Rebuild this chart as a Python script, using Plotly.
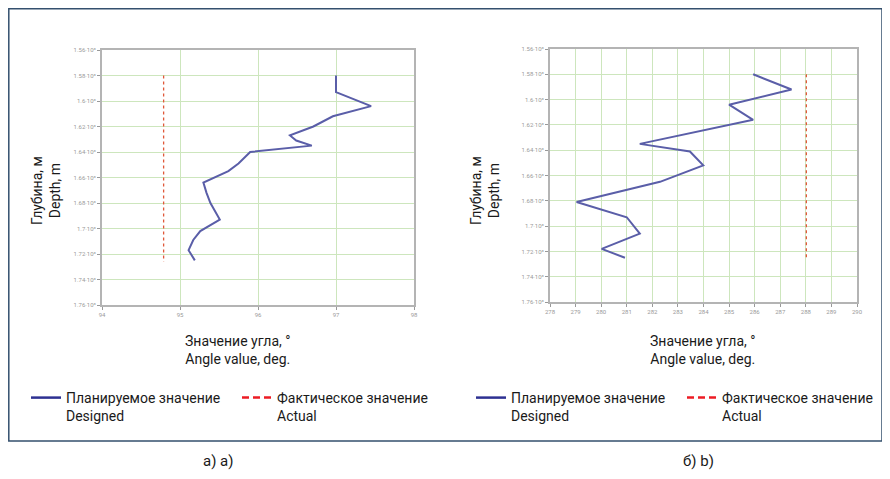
import plotly.graph_objects as go

OFF = 8  # default page margin of the html body
W, H = 890 - OFF, 479 - OFF
def px(x): return (x - OFF) / W
def py(y): return 1 - (y - OFF) / H

# ---------------- data ----------------
depth_ticks = [1560, 1580, 1600, 1620, 1640, 1660, 1680, 1700, 1720, 1740, 1760]
depth_labels = ["1.56·10³", "1.58·10³", "1.6·10³", "1.62·10³", "1.64·10³", "1.66·10³",
                "1.68·10³", "1.7·10³", "1.72·10³", "1.74·10³", "1.76·10³"]

a_x_ticks = [94, 95, 96, 97, 98]
a_x_labels = ["94", "95", "96", "97", "98"]
a_design_angle = [97.0, 97.0, 97.45, 96.96, 96.71, 96.41, 96.49, 96.69, 95.90, 95.75,
                  95.62, 95.30, 95.34, 95.39, 95.51, 95.26, 95.17, 95.11, 95.19]
a_design_depth = [1580, 1593, 1604, 1612, 1620, 1627, 1631, 1635, 1640, 1649,
                  1655, 1664, 1672, 1680, 1693, 1702, 1709, 1717, 1725]
a_actual_angle = [94.79, 94.79]
a_actual_depth = [1580, 1726]

b_x_ticks = list(range(278, 291))
b_x_labels = [str(v) for v in b_x_ticks]
b_design_angle = [285.94, 287.44, 285.0, 285.94, 281.51, 283.47, 283.99, 282.30,
                  279.04, 281.0, 281.51, 280.02, 280.93]
b_design_depth = [1580, 1592, 1604, 1616, 1635, 1641, 1652, 1665, 1681, 1693, 1706, 1718, 1725]
b_actual_angle = [288.02, 288.02]
b_actual_depth = [1580, 1726]

series_names = ["Планируемое значение<br>Designed", "Фактическое значение<br>Actual"]
x_title = "Значение угла, °<br>Angle value, deg."
y_title = "Глубина, м<br>Depth, m"
captions = ["а) a)", "б) b)"]

# ---------------- styles ----------------
FONT = "Roboto, sans-serif"
DESIGN_C = "#5a5ea8"
ACTUAL_C = "#e0583a"
LEG_BLUE = "#2e3192"
LEG_RED = "#ed1c24"
GRID = "#cde6bd"

fig = go.Figure()

# plot a
fig.add_trace(go.Scatter(x=a_design_angle, y=a_design_depth, mode="lines",
                         line=dict(color=DESIGN_C, width=2), showlegend=False,
                         xaxis="x", yaxis="y"))
fig.add_trace(go.Scatter(x=a_actual_angle, y=a_actual_depth, mode="lines",
                         line=dict(color=ACTUAL_C, width=1.3, dash="dot"), showlegend=False,
                         xaxis="x", yaxis="y"))
# plot b
fig.add_trace(go.Scatter(x=b_design_angle, y=b_design_depth, mode="lines",
                         line=dict(color=DESIGN_C, width=2), showlegend=False,
                         xaxis="x2", yaxis="y2"))
fig.add_trace(go.Scatter(x=b_actual_angle, y=b_actual_depth, mode="lines",
                         line=dict(color=ACTUAL_C, width=1.3, dash="dot"), showlegend=False,
                         xaxis="x2", yaxis="y2"))

# legend entries
for leg in ["legend", "legend2"]:
    fig.add_trace(go.Scatter(x=[None], y=[None], mode="lines", name=series_names[0],
                             line=dict(color=LEG_BLUE, width=2.5), legend=leg))
    fig.add_trace(go.Scatter(x=[None], y=[None], mode="lines", name=series_names[1],
                             line=dict(color=LEG_RED, width=2.5, dash="7px,4px"), legend=leg))

ax_common = dict(showgrid=True, gridcolor=GRID, gridwidth=1, zeroline=False,
                 showline=True, linecolor="#b4b4b4", linewidth=2, mirror=True,
                 ticks="outside", ticklen=3, tickcolor="#999999", tickwidth=1,
                 tickfont=dict(size=6, color="#9a9a9a", family=FONT))

legend_common = dict(orientation="h", xanchor="left", yanchor="top", valign="top",
                     entrywidth=166, entrywidthmode="pixels", bgcolor="rgba(0,0,0,0)",
                     font=dict(family=FONT, size=14, color="#1a1a1a"),
                     tracegroupgap=0, itemclick=False, itemdoubleclick=False)

fig.update_layout(
    width=W, height=H, margin=dict(l=0, r=0, t=0, b=0, autoexpand=False),
    paper_bgcolor="white", plot_bgcolor="white",
    font=dict(family=FONT, size=14, color="#1a1a1a"),
    xaxis=dict(domain=[px(102), px(414)], range=[94, 98], tickvals=a_x_ticks,
               ticktext=a_x_labels, anchor="y", **ax_common),
    yaxis=dict(domain=[py(305), py(50)], range=[1760, 1560], tickvals=depth_ticks,
               ticktext=depth_labels, anchor="x", **ax_common),
    xaxis2=dict(domain=[px(550), px(857)], range=[278, 290], tickvals=b_x_ticks,
                ticktext=b_x_labels, anchor="y2", **ax_common),
    yaxis2=dict(domain=[py(302), py(49)], range=[1760, 1560], tickvals=depth_ticks,
                ticktext=depth_labels, anchor="x2", **ax_common),
    legend=dict(x=px(26), y=py(382), **legend_common),
    legend2=dict(x=px(471), y=py(382), **legend_common),
    showlegend=True,
)

ann = []
for cx in [238, 703]:
    ann.append(dict(x=px(cx), y=py(350), xref="paper", yref="paper", text=x_title,
                    showarrow=False, xanchor="center", yanchor="middle",
                    font=dict(family=FONT, size=14, color="#1a1a1a")))
for cx in [46, 485]:
    ann.append(dict(x=px(cx), y=py(191), xref="paper", yref="paper", text=y_title,
                    showarrow=False, textangle=-90, xanchor="center", yanchor="middle",
                    font=dict(family=FONT, size=14, color="#1a1a1a")))
for cx, t in zip([218, 698], captions):
    ann.append(dict(x=px(cx), y=py(461), xref="paper", yref="paper", text=t,
                    showarrow=False, xanchor="center", yanchor="middle",
                    font=dict(family=FONT, size=15, color="#1a1a1a")))
fig.update_layout(annotations=ann)

fig.add_shape(type="rect", xref="paper", yref="paper", x0=px(8.8), x1=px(882),
              y0=py(441), y1=py(8.8), line=dict(color="#34506e", width=1.5),
              fillcolor="rgba(0,0,0,0)", layer="below")

fig.write_html("out.html")
